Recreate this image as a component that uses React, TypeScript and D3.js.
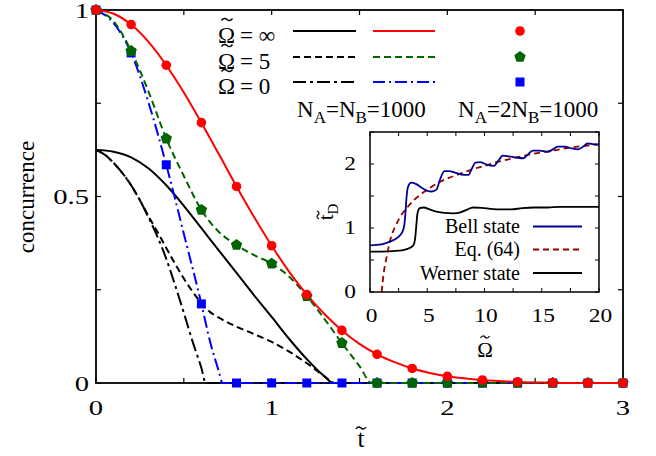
import React from 'react';
import * as d3 from 'd3';

type P = [number, number];

// ---------- main panel data (t, concurrence) ----------
const redLine: P[] = [[0,1],[0.1,0.99],[0.2,0.961],[0.3,0.914],[0.4,0.852],[0.5,0.779],[0.6,0.698],[0.7,0.613],[0.8,0.527],[0.9,0.445],[1.0,0.368],[1.1,0.298],[1.2,0.237],[1.3,0.185],[1.4,0.141],[1.5,0.105],[1.6,0.077],[1.7,0.056],[1.8,0.039],[1.9,0.027],[2.0,0.018],[2.2,0.008],[2.4,0.003],[2.6,0.001],[2.8,0],[3,0]];
const greenLine: P[] = [[0,1],[0.1,0.97],[0.2,0.89],[0.3,0.78],[0.4,0.655],[0.5,0.555],[0.6,0.464],[0.7,0.405],[0.8,0.37],[0.9,0.343],[1.0,0.32],[1.1,0.285],[1.2,0.233],[1.3,0.172],[1.4,0.107],[1.5,0.045],[1.57,0],[3,0]];
const blueLine: P[] = [[0,1],[0.1,0.965],[0.2,0.885],[0.3,0.75],[0.4,0.585],[0.5,0.4],[0.6,0.212],[0.65,0.11],[0.7,0.03],[0.72,0],[3,0]];
const blackSolid: P[] = [[0,0.625],[0.1,0.62],[0.2,0.605],[0.3,0.575],[0.4,0.53],[0.5,0.475],[0.6,0.415],[0.7,0.355],[0.8,0.295],[0.9,0.235],[1.0,0.177],[1.1,0.118],[1.2,0.064],[1.3,0.018],[1.35,0],[3,0]];
const blackDashed: P[] = [[0,0.625],[0.05,0.612],[0.1,0.59],[0.15,0.563],[0.2,0.53],[0.25,0.49],[0.3,0.446],[0.35,0.405],[0.4,0.362],[0.45,0.32],[0.5,0.28],[0.55,0.245],[0.6,0.214],[0.65,0.19],[0.7,0.175],[0.8,0.151],[0.9,0.131],[1.0,0.11],[1.1,0.084],[1.2,0.053],[1.3,0.018],[1.36,0],[3,0]];
const blackDashDot: P[] = [[0,0.625],[0.05,0.612],[0.1,0.59],[0.15,0.563],[0.2,0.53],[0.25,0.49],[0.3,0.443],[0.35,0.392],[0.4,0.333],[0.45,0.263],[0.5,0.188],[0.55,0.111],[0.6,0.04],[0.625,0],[3,0]];

const markerT = [0,0.2,0.4,0.6,0.8,1.0,1.2,1.4,1.6,1.8,2.0,2.2,2.4,2.6,2.8,3.0];
const redDots = [1,0.961,0.852,0.698,0.527,0.368,0.237,0.141,0.077,0.039,0.018,0.008,0.003,0.001,0,0];
const greenPents = [1,0.89,0.655,0.464,0.37,0.32,0.233,0.107,0,0,0,0,0,0,0,0];
const blueSquares = [1,0.885,0.585,0.212,0,0,0,0,0,0,0,0,0,0,0,0];

const xTicks = [0,0.5,1,1.5,2,2.5,3];
const xTickLabels = ['0','','1','','2','','3'];
const yTicks = [0,0.25,0.5,0.75,1];
const yTickLabels = ['0','','0.5','','1'];

// ---------- inset data (Omega, t_D) ----------
const bell: P[] = [[0,0.73],[1,0.745],[1.8,0.79],[2.4,0.85],[2.8,0.93],[3.0,1.05],[3.1,1.25],[3.2,1.5],[3.35,1.66],[3.6,1.71],[4.0,1.69],[4.5,1.63],[5.0,1.58],[5.4,1.57],[5.8,1.6],[6.1,1.75],[6.5,1.89],[6.9,1.89],[7.5,1.86],[8.2,1.83],[8.6,1.83],[8.9,1.93],[9.2,2.02],[9.6,2.03],[10.2,1.99],[10.8,1.97],[11.2,2.05],[11.6,2.13],[12.1,2.12],[12.8,2.10],[13.4,2.09],[13.8,2.15],[14.2,2.21],[14.8,2.21],[15.5,2.19],[15.9,2.22],[16.4,2.27],[17.0,2.27],[17.7,2.24],[18.2,2.23],[18.6,2.27],[19.0,2.32],[19.5,2.31],[20,2.30]];
const eq64: P[] = [[1.02,0],[1.2,0.3],[1.46,0.55],[1.75,0.8],[2.0,0.94],[2.33,1.07],[2.8,1.22],[3.2,1.31],[3.8,1.43],[4.4,1.52],[5.2,1.62],[6.1,1.72],[7.0,1.79],[7.9,1.85],[9.0,1.92],[10.2,1.98],[11.3,2.04],[12.5,2.09],[13.7,2.14],[14.9,2.18],[16.0,2.21],[17.2,2.25],[18.6,2.28],[20,2.31]];
const werner: P[] = [[0,0.63],[1,0.632],[2,0.64],[2.9,0.656],[3.5,0.69],[3.8,0.735],[3.95,0.85],[4.05,1.05],[4.15,1.23],[4.35,1.31],[4.7,1.32],[5.2,1.29],[5.8,1.255],[6.5,1.235],[7.3,1.23],[7.9,1.245],[8.4,1.28],[9.0,1.32],[9.8,1.315],[10.5,1.30],[11.5,1.29],[12.3,1.29],[13.3,1.31],[14.3,1.32],[15.5,1.32],[16.6,1.33],[18,1.33],[20,1.33]];

const ixTicks = [0,2.5,5,7.5,10,12.5,15,17.5,20];
const ixTickLabels = ['0','','5','','10','','15','','20'];
const iyTicks = [0,0.5,1,1.5,2,2.5];
const iyTickLabels = ['0','','1','','2',''];

const SERIF = '"Liberation Serif", "DejaVu Serif", "Noto Serif", serif';
const RED = '#ff0000', GREEN = '#006400', BLUE = '#0000ff';
const DKBLUE = '#00008b', DKRED = '#9b0000';

function pentagon(cx: number, cy: number, r: number) {
  const pts = d3.range(5).map(i => {
    const a = -Math.PI / 2 + (i * 2 * Math.PI) / 5;
    return [cx + r * Math.cos(a), cy + r * Math.sin(a)];
  });
  return 'M' + pts.map(p => p.join(',')).join('L') + 'Z';
}

// a small tilde accent centred on (cx, cy), drawn as a path
function Tilde({ cx, cy, w = 10, sw = 1.3, rot }: { cx: number; cy: number; w?: number; sw?: number; rot?: string }) {
  const h = w / 2;
  const d = `M${-h},${1} C${-h * 0.7},${-1.5} ${-h * 0.3},${-1.5} 0,0 S${h * 0.7},${1.5} ${h},${-1}`;
  return <path d={d} transform={`translate(${cx},${cy})${rot ? ' ' + rot : ''}`} fill="none" stroke="#000" strokeWidth={sw} />;
}

export default function App() {
  const x = d3.scaleLinear().domain([0, 3]).range([96, 623]);
  const y = d3.scaleLinear().domain([0, 1]).range([383, 10]);
  const ix = d3.scaleLinear().domain([0, 20]).range([370, 599]);
  const iy = d3.scaleLinear().domain([0, 2.5]).range([292, 132]);

  const line = d3.line<P>().x(d => x(d[0])).y(d => y(d[1])).curve(d3.curveMonotoneX);
  const iline = d3.line<P>().x(d => ix(d[0])).y(d => iy(d[1])).curve(d3.curveMonotoneX);

  const [x0, x1] = x.range();
  const [y0, y1] = y.range();
  const [ix0, ix1] = ix.range();
  const [iy0, iy1] = iy.range();
  const TL = 5;

  const tickLabel = (tx: number, ty: number, s: string, anchor: string, fs: number, key: string) => (
    <text key={key} transform={`translate(${tx},${ty}) scale(1.3,1)`} textAnchor={anchor} fontSize={fs} fontFamily={SERIF}>{s}</text>
  );

  const legendRows = [
    { val: '∞', ly: 31, tb: 43, bdash: undefined as string | undefined, cdash: undefined as string | undefined, color: RED, marker: 'circle' },
    { val: '5', ly: 57, tb: 69, bdash: '7,4', cdash: '7,4', color: GREEN, marker: 'pent' },
    { val: '0', ly: 82, tb: 94, bdash: '13,4,3,4', cdash: '12,4,2,4', color: BLUE, marker: 'square' },
  ];

  return (
    <svg width={656} height={456} style={{ position: 'absolute', left: 0, top: 0, background: '#fff', fontFamily: SERIF }}>
      <rect x={0} y={0} width={656} height={456} fill="#fff" />
      {/* main frame */}
      <rect x={x0} y={y1} width={x1 - x0} height={y0 - y1} fill="none" stroke="#000" strokeWidth={1.8} />
      {xTicks.map((t, i) => (
        <g key={'xt' + i}>
          <line x1={x(t)} x2={x(t)} y1={y0} y2={y0 - TL} stroke="#000" strokeWidth={1.2} />
          <line x1={x(t)} x2={x(t)} y1={y1} y2={y1 + TL} stroke="#000" strokeWidth={1.2} />
          {xTickLabels[i] && tickLabel(x(t), 415, xTickLabels[i], 'middle', 22, 'xl' + i)}
        </g>
      ))}
      {yTicks.map((v, i) => (
        <g key={'yt' + i}>
          <line x1={x0} x2={x0 + TL} y1={y(v)} y2={y(v)} stroke="#000" strokeWidth={1.2} />
          <line x1={x1} x2={x1 - TL} y1={y(v)} y2={y(v)} stroke="#000" strokeWidth={1.2} />
          {yTickLabels[i] && tickLabel(89, y(v) + 7.5, yTickLabels[i], 'end', 22, 'yl' + i)}
        </g>
      ))}
      <text x={361} y={447} textAnchor="middle" fontSize={25} fontFamily={SERIF}>t</text>
      <Tilde cx={361} cy={428} w={10} sw={1.4} />
      <text transform="translate(34,197) rotate(-90)" textAnchor="middle" fontSize={23} fontFamily={SERIF}>concurrence</text>

      {/* main curves */}
      <path d={line(blackSolid)!} fill="none" stroke="#000" strokeWidth={2} />
      <path d={line(blackDashed)!} fill="none" stroke="#000" strokeWidth={2} strokeDasharray="7,4" />
      <path d={line(blackDashDot)!} fill="none" stroke="#000" strokeWidth={2} strokeDasharray="13,4,3,4" />
      <path d={line(blueLine)!} fill="none" stroke={BLUE} strokeWidth={2} strokeDasharray="12,4,2,4" />
      <path d={line(greenLine)!} fill="none" stroke={GREEN} strokeWidth={2} strokeDasharray="7,4" />
      <path d={line(redLine)!} fill="none" stroke={RED} strokeWidth={2} />
      {markerT.map((t, i) => (
        <rect key={'bs' + i} x={x(t) - 4.5} y={y(blueSquares[i]) - 4.5} width={9} height={9} fill={BLUE} />
      ))}
      {markerT.map((t, i) => (
        <path key={'gp' + i} d={pentagon(x(t), y(greenPents[i]), 6)} fill={GREEN} />
      ))}
      {markerT.map((t, i) => (
        <circle key={'rc' + i} cx={x(t)} cy={y(redDots[i])} r={4.8} fill={RED} />
      ))}

      {/* main legend */}
      {legendRows.map((r, i) => (
        <g key={'lg' + i}>
          <text x={218} y={r.tb} fontSize={23} fontFamily={SERIF}>Ω</text>
          <Tilde cx={227} cy={r.tb - 23.5} w={11} sw={1.4} />
          <text x={240} y={r.tb} fontSize={23} fontFamily={SERIF}>{'= ' + r.val}</text>
          <line x1={293} x2={356} y1={r.ly} y2={r.ly} stroke="#000" strokeWidth={2} strokeDasharray={r.bdash} />
          <line x1={373} x2={435} y1={r.ly} y2={r.ly} stroke={r.color} strokeWidth={2} strokeDasharray={r.cdash} />
          {r.marker === 'circle' && <circle cx={520} cy={r.ly} r={4.8} fill={RED} />}
          {r.marker === 'pent' && <path d={pentagon(520, r.ly, 6)} fill={GREEN} />}
          {r.marker === 'square' && <rect x={515.5} y={r.ly - 4.5} width={9} height={9} fill={BLUE} />}
        </g>
      ))}
      <text x={297} y={117} fontSize={23} fontFamily={SERIF}>
        N<tspan fontSize={17} dy={6}>A</tspan><tspan fontSize={23} dy={-6}>=N</tspan><tspan fontSize={17} dy={6}>B</tspan><tspan fontSize={23} dy={-6}>=1000</tspan>
      </text>
      <text x={458} y={117} fontSize={23} fontFamily={SERIF}>
        N<tspan fontSize={17} dy={6}>A</tspan><tspan fontSize={23} dy={-6}>=2N</tspan><tspan fontSize={17} dy={6}>B</tspan><tspan fontSize={23} dy={-6}>=1000</tspan>
      </text>

      {/* inset */}
      <rect x={ix0} y={iy1} width={ix1 - ix0} height={iy0 - iy1} fill="#fff" />
      {ixTicks.map((t, i) => (
        <g key={'ixt' + i}>
          <line x1={ix(t)} x2={ix(t)} y1={iy0} y2={iy0 - 4} stroke="#000" strokeWidth={1} />
          <line x1={ix(t)} x2={ix(t)} y1={iy1} y2={iy1 + 4} stroke="#000" strokeWidth={1} />
          {ixTickLabels[i] && tickLabel(ix(t) + 1.5, 322, ixTickLabels[i], 'middle', 18, 'ixl' + i)}
        </g>
      ))}
      {iyTicks.map((v, i) => (
        <g key={'iyt' + i}>
          <line x1={ix0} x2={ix0 + 4} y1={iy(v)} y2={iy(v)} stroke="#000" strokeWidth={1} />
          <line x1={ix1} x2={ix1 - 4} y1={iy(v)} y2={iy(v)} stroke="#000" strokeWidth={1} />
          {iyTickLabels[i] && tickLabel(356, iy(v) + 6, iyTickLabels[i], 'end', 18, 'iyl' + i)}
        </g>
      ))}
      <path d={iline(werner)!} fill="none" stroke="#000" strokeWidth={1.8} />
      <path d={iline(eq64)!} fill="none" stroke={DKRED} strokeWidth={1.8} strokeDasharray="6,4" />
      <path d={iline(bell)!} fill="none" stroke={DKBLUE} strokeWidth={1.8} />
      <rect x={ix0} y={iy1} width={ix1 - ix0} height={iy0 - iy1} fill="none" stroke="#000" strokeWidth={1.5} />
      <text x={520} y={233} textAnchor="end" fontSize={20} fontFamily={SERIF}>Bell state</text>
      <line x1={533} x2={582} y1={226.5} y2={226.5} stroke={DKBLUE} strokeWidth={1.8} />
      <text x={520} y={256} textAnchor="end" fontSize={20} fontFamily={SERIF}>Eq. (64)</text>
      <line x1={533} x2={582} y1={249.5} y2={249.5} stroke={DKRED} strokeWidth={1.8} strokeDasharray="6,4" />
      <text x={520} y={280} textAnchor="end" fontSize={20} fontFamily={SERIF}>Werner state</text>
      <line x1={533} x2={582} y1={273} y2={273} stroke="#000" strokeWidth={1.8} />
      <text x={485} y={357} textAnchor="middle" fontSize={21} fontFamily={SERIF}>Ω</text>
      <Tilde cx={485} cy={337} w={9} sw={1.2} />
      <text transform="translate(333,212) rotate(-90)" textAnchor="middle" fontSize={21} fontFamily={SERIF}>
        t<tspan fontSize={15} dy={5}>D</tspan>
      </text>
      <Tilde cx={318} cy={215} w={8} sw={1.2} rot="rotate(-90)" />
    </svg>
  );
}
